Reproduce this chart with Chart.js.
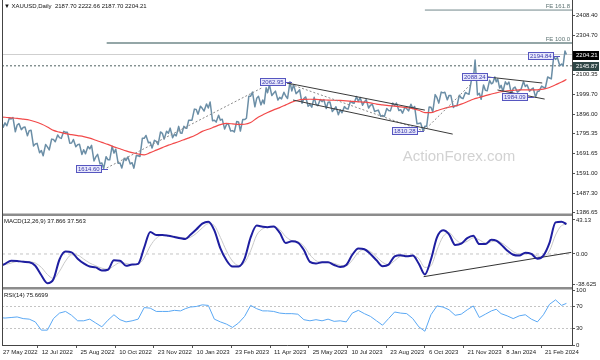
<!DOCTYPE html>
<html>
<head>
<meta charset="utf-8">
<script src="https://cdn.jsdelivr.net/npm/chart.js@4.4.1/dist/chart.umd.min.js"></script>
<style>
  html, body { margin: 0; padding: 0; background: #fff; }
  #wrap { position: relative; width: 600px; height: 360px; }
  #wrap canvas { position: absolute; left: 0; top: 0; }
</style>
</head>
<body>
<div id="wrap">
  <canvas id="main" width="600" height="360"></canvas>
  <canvas id="macd" width="600" height="360"></canvas>
  <canvas id="rsi" width="600" height="360"></canvas>
</div>
<script>
// weekly samples (Friday, last one is Thursday 21 Mar 2024)
const weekDates = [
  '2022-05-27','2022-06-03','2022-06-10','2022-06-17','2022-06-24','2022-07-01','2022-07-08','2022-07-15','2022-07-22','2022-07-29',
  '2022-08-05','2022-08-12','2022-08-19','2022-08-26','2022-09-02','2022-09-09','2022-09-16','2022-09-23','2022-09-30','2022-10-07',
  '2022-10-14','2022-10-21','2022-10-28','2022-11-04','2022-11-11','2022-11-18','2022-11-25','2022-12-02','2022-12-09','2022-12-16',
  '2022-12-23','2022-12-30','2023-01-06','2023-01-13','2023-01-20','2023-01-27','2023-02-03','2023-02-10','2023-02-17','2023-02-24',
  '2023-03-03','2023-03-10','2023-03-17','2023-03-24','2023-03-31','2023-04-07','2023-04-14','2023-04-21','2023-04-28','2023-05-05',
  '2023-05-12','2023-05-19','2023-05-26','2023-06-02','2023-06-09','2023-06-16','2023-06-23','2023-06-30','2023-07-07','2023-07-14',
  '2023-07-21','2023-07-28','2023-08-04','2023-08-11','2023-08-18','2023-08-25','2023-09-01','2023-09-08','2023-09-15','2023-09-22',
  '2023-09-29','2023-10-06','2023-10-13','2023-10-20','2023-10-27','2023-11-03','2023-11-10','2023-11-17','2023-11-24','2023-12-01',
  '2023-12-08','2023-12-15','2023-12-22','2023-12-29','2024-01-05','2024-01-12','2024-01-19','2024-01-26','2024-02-02','2024-02-09',
  '2024-02-16','2024-02-23','2024-03-01','2024-03-08','2024-03-15','2024-03-21'
];
const weekHigh = [
  1870,1874,1875,1879,1847,1830,1813,1745,1739,1767, 1788,1807,1802,1765,1741,1729,1735,1688,1676,1730,
  1715,1668,1675,1682,1772,1786,1761,1804,1808,1824, 1833,1833,1865,1922,1937,1949,1959,1890,1870,1847,
  1858,1869,1989,2010,1988,2032,2049,2015,2009,2063, 2048,2022,1985,1983,1972,1971,1959,1934,1935,1963,
  1987,1982,1971,1948,1917,1925,1953,1953,1932,1947, 1936,1850,1933,1997,2010,2009,1992,1994,2008,2075,
  2176,2047,2071,2088,2078,2063,2062,2036,2065,2047, 2031,2041,2088,2195,2189,2222.66
];
const weekLow = [
  1845,1828,1836,1805,1816,1784,1732,1697,1681,1711, 1754,1771,1746,1728,1688,1691,1654,1639,1615,1660,
  1642,1618,1639,1617,1677,1748,1721,1739,1767,1774, 1784,1797,1823,1865,1896,1912,1862,1855,1819,1809,
  1804,1809,1875,1934,1944,1950,1992,1969,1975,1977, 2002,1952,1937,1932,1940,1925,1910,1893,1903,1922,
  1952,1942,1928,1910,1885,1884,1913,1915,1901,1913, 1846,1810,1834,1908,1953,1970,1931,1939,1976,1999,
  1995,1973,2017,2058,2031,2013,2001,2010,2025,2015, 1984,2016,2030,2078,2146,2146
];
const weekClose = [
  1853,1851,1871,1840,1827,1811,1742,1708,1727,1765, 1775,1802,1747,1738,1712,1717,1675,1644,1661,1695,
  1644,1657,1645,1681,1771,1751,1755,1797,1797,1793, 1798,1824,1865,1920,1926,1928,1865,1865,1842,1811,
  1856,1868,1989,1978,1969,2007,2004,1983,1990,2016, 2011,1977,1946,1948,1961,1958,1921,1919,1925,1955,
  1962,1959,1942,1914,1889,1915,1940,1919,1924,1925, 1848,1833,1932,1981,2006,1993,1940,1981,2002,2072,
  2004,2019,2053,2063,2045,2049,2029,2018,2039,2024, 2013,2035,2083,2179,2155,2204.21
];
const maValues = [
  1882,1880,1877,1874,1870,1866,1857,1845,1830,1812, 1803,1795,1790,1785,1780,1772,1761,1750,1740,1727,
  1717,1706,1697,1690,1686,1697,1710,1723,1736,1746, 1757,1767,1776,1790,1807,1818,1830,1842,1848,1846,
  1843,1844,1853,1875,1892,1905,1918,1930,1944,1958, 1968,1972,1973,1972,1970,1969,1968,1967,1965,1962,
  1960,1958,1954,1948,1944,1940,1938,1934,1930,1925, 1916,1904,1904,1914,1924,1932,1938,1948,1960,1973,
  1982,1992,2000,2006,2012,2016,2019,2021,2021,2021, 2022,2025,2034,2048,2062,2075
];
const macdMain = [
  -16,-12.5,-8.5,-8.8,-10,-10.5,-15,-27,-37,-32, -7,3,2,-6,-12,-16,-17,-21,-20,-8,
  -8.5,-15,-13.5,-12.5,8,28,24,24,23,21.5, 20,19,24,31,38.5,41,30,7,-8,-16,
  -16,-6,21,36,34.5,34,35,27,14,16, 14.5,5,-10,-12,-10.6,-10.6,-14,-16.5,-14,-1,
  7,6,0,-8,-15.5,-13.5,-3,-1.5,-3,-2, -12.5,-26,-7,21,30,25,11.5,13,20,23,
  12.5,12.5,18,17,12,4.5,-1,-2,1.5,0, -6,-2,14,40,41,37.9
];
const macdSignal = [
  -14,-13.5,-11.5,-9.5,-9.2,-9.8,-11.5,-17,-26,-31, -22,-9,-1,-1.5,-6.5,-11.5,-15,-18,-19.5,-15,
  -11,-12,-13.5,-13,-5,10,20,23.5,23.5,22.5, 21,20,21,26,33,38.5,36,21,4,-9,
  -14.5,-11,4,24,32,34,34.5,31,22,17, 15.5,10,-1,-8.5,-10.5,-10.5,-12,-14.5,-15,-8,
  2,5.5,3,-3.5,-10.5,-13.5,-8.5,-3,-2.5,-2.5, -6,-17,-15,5,22,27,19,14,16,20.5,
  18,14,15.5,16.5,14.5,9,3,0,0,0.5, -2.5,-3.5,4,24,36,37.6
];
const rsiValues = [
  50,49,50,51,48,47,42,27,27,48, 58,61,54,44,44,47,40,33,45,55,
  46,42,44,47,68,67,61,61,61,63, 62,66,69,70,73,72,47,42,38,32,
  40,52,72,66,62,62,61,58,57,57, 56,46,44,46,44,47,43,44,42,58,
  63,57,52,44,36,48,60,58,57,48, 33,25,55,71,69,64,54,56,64,71,
  50,56,62,65,57,53,48,53,55,47, 42,55,74,82,72,75.67
];

const holidays = ['2022-12-26', '2023-01-02', '2023-04-07', '2023-12-25', '2024-01-01'];
const xLabelDates = ['2022-05-27','2022-07-12','2022-08-25','2022-10-10','2022-11-23','2023-01-10','2023-02-23','2023-04-11',
                     '2023-05-25','2023-07-10','2023-08-23','2023-10-06','2023-11-21','2024-01-08','2024-02-21'];
const xLabelText = ['27 May 2022','12 Jul 2022','25 Aug 2022','10 Oct 2022','23 Nov 2022','10 Jan 2023','23 Feb 2023','11 Apr 2023',
                    '25 May 2023','10 Jul 2023','23 Aug 2023','6 Oct 2023','21 Nov 2023','8 Jan 2024','21 Feb 2024'];
const priceTicks = [2408.40, 2304.70, 2100.35, 1999.70, 1896.00, 1795.35, 1691.65, 1591.00, 1487.30, 1386.65];
const macdTicks = [43.13, 0, -38.625];
const macdTickText = ['43.13', '0.00', '-38.625'];
const rsiTicks = [100, 70, 30, 0];

const bidPrice = 2204.21;
const supportPrice = 2145.87;
const fe100 = ['2022-09-29', 2264];
const fe1618 = ['2023-10-06', 2434];
const trendLines = [
  [['2023-05-01', 2057], ['2023-10-06', 1917]],
  [['2023-05-08', 1969], ['2023-11-08', 1793]],
  [['2023-12-19', 2088], ['2024-02-22', 2057]],
  [['2024-01-02', 2021], ['2024-02-26', 1974]]
];
const dottedLines = [
  [['2022-09-29', 1618], ['2023-03-30', 2031]],
  [['2023-05-01', 2057], ['2023-10-05', 1809]],
  [['2023-10-05', 1809], ['2023-11-30', 2057]]
];
const macdTrend = [['2023-10-05', -28.8], ['2024-03-27', 2.0]];
const priceLabels = [
  ['2023-04-28', 2062.95], ['2022-09-23', 1614.60], ['2023-09-28', 1810.28],
  ['2023-12-19', 2088.24], ['2024-02-06', 1984.09], ['2024-03-07', 2194.84]
];

const X_MIN = 2.48, X_MAX = 473.6;

// bar number counted in trading days from 27 May 2022
function tradingIndex(s) {
  const end = Date.parse(s + 'T00:00:00Z');
  let n = 0;
  for (let t = Date.UTC(2022, 4, 28); t <= end; t += 864e5) {
    const wd = new Date(t).getUTCDay();
    if (wd > 0 && wd < 6) n++;
  }
  return n - holidays.filter(h => h <= s).length;
}

const weekIdx = weekDates.map(tradingIndex);
const pts = vals => vals.map((v, k) => ({ x: weekIdx[k], y: v }));
const seg = p => p.map(([d, v]) => ({ x: tradingIndex(d), y: v }));
const flat = (v, from) => [{ x: from, y: v }, { x: X_MAX, y: v }];

// price trace: within each week go through the week's low/high, then the close
const priceTrace = [];
weekDates.forEach((d, k) => {
  const i1 = weekIdx[k];
  const i0 = k ? weekIdx[k - 1] : i1 - 5;
  const up = k ? weekClose[k] >= weekClose[k - 1] : false;
  priceTrace.push({ x: i0 + (i1 - i0) * 0.3, y: up ? weekLow[k] : weekHigh[k] });
  priceTrace.push({ x: i0 + (i1 - i0) * 0.7, y: up ? weekHigh[k] : weekLow[k] });
  priceTrace.push({ x: i1, y: weekClose[k] });
});

Chart.defaults.font.family = '"Liberation Sans", Arial, sans-serif';
Chart.defaults.font.size = 6;
Chart.defaults.color = '#222';

function line(data, color, width, dash, order, smooth) {
  return { data, borderColor: color, borderWidth: width, borderDash: dash || [], pointRadius: 0,
           tension: smooth ? 0.4 : 0, cubicInterpolationMode: smooth ? 'monotone' : 'default',
           fill: false, order: order || 0, borderJoinStyle: 'round' };
}

function xAxis(show) {
  return {
    type: 'linear', min: X_MIN, max: X_MAX, display: show,
    afterBuildTicks: a => { a.ticks = xLabelDates.map(d => ({ value: tradingIndex(d) })); },
    afterFit: a => { if (show) a.height = 15; a.paddingLeft = 0; a.paddingRight = 0; },
    ticks: { autoSkip: false, maxRotation: 0, minRotation: 0, align: 'start', labelOffset: 4, padding: 1,
             color: '#222', callback: (v, i) => xLabelText[i] },
    grid: { drawOnChartArea: false, tickLength: 3, color: '#555' },
    border: { display: false }
  };
}

function yAxis(min, max, ticks, texts) {
  return {
    position: 'right', min, max,
    afterBuildTicks: a => { a.ticks = ticks.map(v => ({ value: v })); },
    afterFit: a => { a.width = 28; a.paddingTop = 0; a.paddingBottom = 0; },
    ticks: { autoSkip: false, padding: 1, color: '#222', callback: (v, i) => texts[i] },
    grid: { drawOnChartArea: false, tickLength: 3, color: '#555' },
    border: { display: true, color: '#555' }
  };
}

const baseOpts = (padTop, padBottom) => ({
  responsive: false, animation: false, events: [],
  layout: { padding: { left: 2, top: padTop, right: 0, bottom: padBottom } },
  plugins: { legend: { display: false }, tooltip: { enabled: false } }
});

const mainDecor = {
  id: 'mainDecor',
  beforeDatasetsDraw(chart) {
    const c = chart.ctx;
    c.save();
    c.font = '15px "Liberation Sans", Arial, sans-serif';
    c.fillStyle = '#d2d2d2';
    c.textAlign = 'center';
    c.textBaseline = 'middle';
    c.fillText('ActionForex.com', 459, 157);
    c.restore();
  },
  afterDatasetsDraw(chart) {
    const { ctx: c, scales: { x, y } } = chart;
    c.save();
    c.font = '6px "Liberation Sans", Arial, sans-serif';
    c.textBaseline = 'middle';
    // price labels with leader lines
    priceLabels.forEach(([d, v]) => {
      const txt = v.toFixed(2);
      const xr = Math.round(x.getPixelForValue(tradingIndex(d)));
      const yc = Math.round(y.getPixelForValue(v));
      const w = Math.ceil(c.measureText(txt).width) + 4;
      c.fillStyle = '#e8e8fb';
      c.fillRect(xr - w, yc - 4, w, 8);
      c.strokeStyle = '#5656c0';
      c.lineWidth = 1;
      c.strokeRect(xr - w + 0.5, yc - 3.5, w - 1, 7);
      c.beginPath();
      c.moveTo(xr, yc + 0.5);
      c.lineTo(xr + 6, yc + 0.5);
      c.stroke();
      c.fillStyle = '#3c3cae';
      c.textAlign = 'left';
      c.fillText(txt, xr - w + 2, yc + 0.5);
    });
    // Fibonacci expansion captions
    c.fillStyle = '#5d7373';
    c.textAlign = 'right';
    c.fillText('FE 161.8', 570, y.getPixelForValue(fe1618[1]) - 4);
    c.fillText('FE 100.0', 570, y.getPixelForValue(fe100[1]) - 4);
    // right axis price boxes
    [[bidPrice, '#000000'], [supportPrice, '#2f4646']].forEach(([v, col]) => {
      const yc = Math.round(y.getPixelForValue(v));
      c.fillStyle = col;
      c.fillRect(573, yc - 4, 26, 9);
      c.fillStyle = '#fff';
      c.textAlign = 'left';
      c.fillText(v.toFixed(2), 576, yc + 0.5);
    });
    c.restore();
  }
};

new Chart(document.getElementById('main'), {
  type: 'line',
  data: {
    datasets: [
      ...trendLines.map(p => line(seg(p), '#3a3a3a', 1, null, 0)),
      ...dottedLines.map(p => line(seg(p), '#8a8a8a', 1, [2, 2], 0)),
      line(pts(maValues), '#f24a4a', 1.2, null, 1, true),
      line(priceTrace, '#6b8ea6', 1.5, null, 2),
      line(flat(fe100[1], tradingIndex(fe100[0])), '#71888a', 1.6, null, 3),
      line(flat(fe1618[1], tradingIndex(fe1618[0])), '#71888a', 1, null, 3),
      line(flat(bidPrice, X_MIN), '#cfcfcf', 1, null, 3),
      line(flat(supportPrice, X_MIN), '#4d6060', 1, [2, 2], 3)
    ]
  },
  options: Object.assign(baseOpts(1, 145), {
    scales: {
      x: xAxis(false),
      y: yAxis(1374.9, 2480.8, priceTicks, priceTicks.map(v => v.toFixed(2)))
    }
  }),
  plugins: [mainDecor]
});

new Chart(document.getElementById('macd'), {
  type: 'line',
  data: {
    datasets: [
      line(pts(macdMain), '#1e1ea0', 2, null, 0, true),
      line(seg(macdTrend), '#333333', 1, null, 1),
      line(pts(macdSignal), '#c8c8c8', 1, null, 2, true),
      line(flat(0, X_MIN), '#c4c4c4', 1, [3, 3], 3)
    ]
  },
  options: Object.assign(baseOpts(217, 73), {
    scales: {
      x: xAxis(false),
      y: yAxis(-41.9, 46.9, macdTicks, macdTickText)
    }
  })
});

const frame = {
  id: 'frame',
  afterDraw(chart) {
    const c = chart.ctx;
    c.save();
    c.fillStyle = '#8c8c8c';
    c.fillRect(2, 213.5, 571, 2.5);
    c.fillRect(2, 287, 571, 2.5);
    c.strokeStyle = '#444';
    c.lineWidth = 1;
    c.beginPath();
    c.moveTo(2.5, 0); c.lineTo(2.5, 345.5);
    c.moveTo(2, 345.5); c.lineTo(572.5, 345.5);
    c.moveTo(572.5, 0); c.lineTo(572.5, 345.5);
    c.stroke();
    c.font = '6px "Liberation Sans", Arial, sans-serif';
    c.fillStyle = '#111';
    c.textAlign = 'left';
    c.textBaseline = 'middle';
    c.fillText('\u25BC XAUUSD,Daily  2187.70 2222.66 2187.70 2204.21', 4, 6);
    c.fillText('MACD(12,26,9) 37.866 37.563', 4, 221.5);
    c.fillText('RSI(14) 75.6699', 4, 295);
    c.restore();
  }
};

new Chart(document.getElementById('rsi'), {
  type: 'line',
  data: {
    datasets: [
      line(pts(rsiValues), '#5aa8f4', 1, null, 0),
      line(flat(70, X_MIN), '#c4c4c4', 1, [2, 2], 1),
      line(flat(30, X_MIN), '#c4c4c4', 1, [2, 2], 1)
    ]
  },
  options: Object.assign(baseOpts(290, 0), {
    scales: {
      x: xAxis(true),
      y: yAxis(0, 100, rsiTicks, rsiTicks.map(String))
    }
  }),
  plugins: [frame]
});
</script>
</body>
</html>
